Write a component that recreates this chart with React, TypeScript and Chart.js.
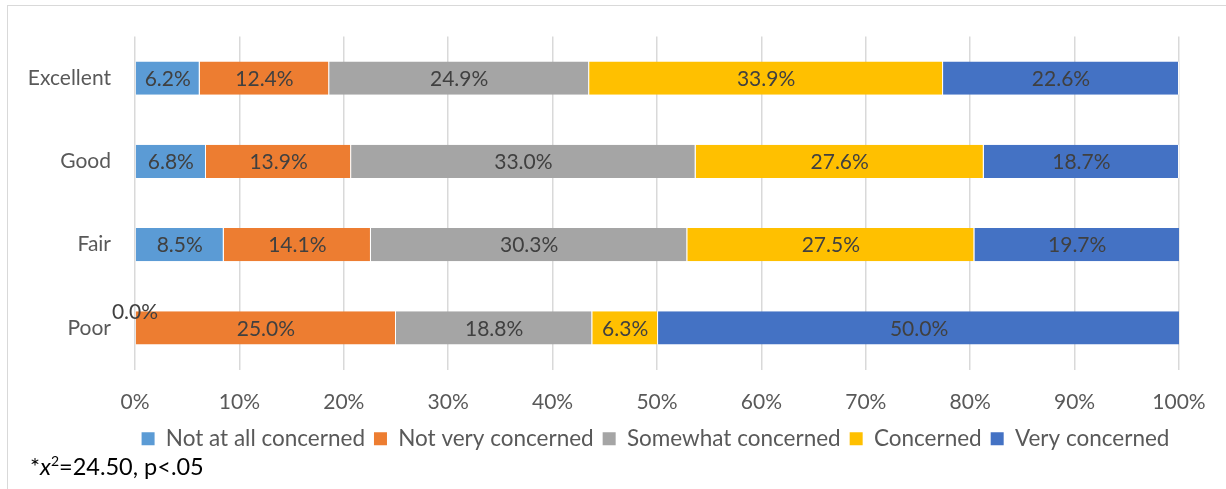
import React, { useEffect, useRef } from "react";
import { Chart, registerables } from "chart.js";

Chart.register(...registerables);

// Self-rated health groups and the share (%) at each level of concern
const categories = ["Excellent", "Good", "Fair", "Poor"];
const seriesNames = [
  "Not at all concerned",
  "Not very concerned",
  "Somewhat concerned",
  "Concerned",
  "Very concerned",
];
const notAtAllConcerned = [6.2, 6.8, 8.5, 0.0];
const notVeryConcerned = [12.4, 13.9, 14.1, 25.0];
const somewhatConcerned = [24.9, 33.0, 30.3, 18.8];
const concerned = [33.9, 27.6, 27.5, 6.3];
const veryConcerned = [22.6, 18.7, 19.7, 50.0];
const xTicks = [0, 10, 20, 30, 40, 50, 60, 70, 80, 90, 100];

const seriesValues = [
  notAtAllConcerned,
  notVeryConcerned,
  somewhatConcerned,
  concerned,
  veryConcerned,
];
const seriesColors = ["#5B9BD5", "#ED7D31", "#A5A5A5", "#FFC000", "#4472C4"];

const FONT = "Lato";
const TEXT = "#595959";

// Writes each segment's value in the middle of its bar piece
const segmentLabels = {
  id: "segmentLabels",
  afterDatasetsDraw(chart: any) {
    const ctx = chart.ctx;
    ctx.save();
    ctx.font = `21px ${FONT}`;
    ctx.fillStyle = "#404040";
    ctx.textAlign = "center";
    ctx.textBaseline = "middle";
    chart.data.datasets.forEach((ds: any, di: number) => {
      const meta = chart.getDatasetMeta(di);
      meta.data.forEach((bar: any, i: number) => {
        const v = ds.data[i];
        const cx = (bar.x + bar.base) / 2;
        const cy = v === 0 ? bar.y - 16 : bar.y + 1;
        ctx.fillText(v.toFixed(1) + "%", cx, cy);
      });
    });
    ctx.restore();
  },
};

// Centres the legend row under the plot area rather than the whole canvas
const legendShift = {
  id: "legendShift",
  afterLayout(chart: any) {
    const lg = chart.legend;
    if (!lg) return;
    const shift = 66;
    lg.left += shift;
    lg.right += shift;
  },
};

export default function App() {
  const canvasRef = useRef<HTMLCanvasElement>(null);

  useEffect(() => {
    if (!canvasRef.current) return;
    const chart = new Chart(canvasRef.current, {
      type: "bar",
      data: {
        labels: categories,
        datasets: seriesNames.map((name, i) => ({
          label: name,
          data: seriesValues[i],
          backgroundColor: seriesColors[i],
          borderColor: "rgba(255,255,255,0.85)",
          borderWidth: { top: 0, bottom: 0, left: 0, right: 1 },
          borderSkipped: false,
          barPercentage: 0.4,
          categoryPercentage: 1,
        })),
      },
      options: {
        indexAxis: "y",
        responsive: false,
        animation: false,
        layout: { padding: { left: 0, right: 47, top: 35, bottom: 29 } },
        scales: {
          x: {
            stacked: true,
            min: 0,
            max: 100,
            afterBuildTicks(scale: any) {
              scale.ticks = xTicks.map((v) => ({ value: v }));
            },
            afterFit(scale: any) {
              scale.height = 49;
            },
            grid: { color: "#D9D9D9", lineWidth: 1.5, drawTicks: false },
            border: { display: false },
            ticks: {
              padding: 20,
              color: TEXT,
              font: { family: FONT, size: 21 },
              callback: (v: any) => v + "%",
            },
          },
          y: {
            stacked: true,
            afterFit(scale: any) {
              scale.width = 135;
            },
            grid: { display: false, drawTicks: false },
            border: { display: false },
            ticks: {
              padding: 24,
              color: TEXT,
              font: { family: FONT, size: 21 },
            },
          },
        },
        plugins: {
          legend: {
            position: "bottom",
            labels: {
              boxWidth: 13,
              boxHeight: 13,
              padding: 9,
              color: TEXT,
              font: { family: FONT, size: 22.5 },
              generateLabels(c: any) {
                return c.data.datasets.map((ds: any, i: number) => ({
                  text: ds.label,
                  fillStyle: ds.backgroundColor,
                  strokeStyle: ds.backgroundColor,
                  lineWidth: 0,
                  hidden: false,
                  datasetIndex: i,
                  fontColor: TEXT,
                }));
              },
            },
          },
          tooltip: { enabled: false },
        },
      },
      plugins: [segmentLabels, legendShift],
    } as any);
    return () => chart.destroy();
  }, []);

  return (
    <div>
      <div
        style={{
          position: "absolute",
          left: 7,
          top: 5,
          width: 1219,
          height: 484,
          boxSizing: "border-box",
          borderTop: "1px solid #D9D9D9",
          borderLeft: "1px solid #D9D9D9",
        }}
      />
      <canvas
        ref={canvasRef}
        width={1226}
        height={489}
        style={{ position: "absolute", left: 0, top: 0 }}
      />
      <div
        style={{
          position: "absolute",
          left: 30,
          top: 452,
          fontFamily: FONT,
          fontSize: 23.5,
          lineHeight: "28px",
          color: "#000",
          whiteSpace: "nowrap",
        }}
      >
        *<i>x</i>
        <sup style={{ fontSize: 14, lineHeight: 0 }}>2</sup>=24.50, p&lt;.05
      </div>
    </div>
  );
}
